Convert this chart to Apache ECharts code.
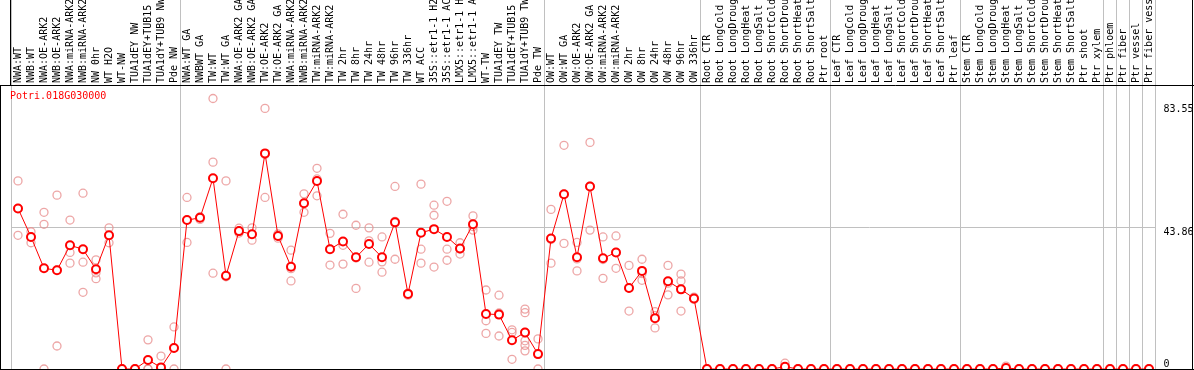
<!DOCTYPE html>
<html><head><meta charset="utf-8">
<script src="https://cdn.jsdelivr.net/npm/echarts@6/dist/echarts.min.js"></script>
<style>html,body{margin:0;padding:0;background:#fff}#c{width:1194px;height:370px}</style>
</head><body><div id="c"></div>
<script>
const geneTitle = 'Potri.018G030000';

const categories = [
  'NWA:WT','NWB:WT','NWA:OE-ARK2','NWB:OE-ARK2','NWA:miRNA-ARK2','NWB:miRNA-ARK2','NW 0hr','WT H2O','WT-NW','TUA1dEY NW','TUA1dEY+TUB15 NW','TUA1dY+TUB9 NW','Pde NW',
  'NWA:WT GA','NWBWT GA','TW:WT','TW:WT GA','NWA:OE-ARK2 GA','NWB:OE-ARK2 GA','TW:OE-ARK2','TW:OE-ARK2 GA','NWA:miRNA-ARK2 GA','NWB:miRNA-ARK2 GA','TW:miRNA-ARK2','TW:miRNA-ARK2 GA',
  'TW 2hr','TW 8hr','TW 24hr','TW 48hr','TW 96hr','TW 336hr','WT ACC','35S::etr1-1 H2O','35S::etr1-1 ACC','LMX5::etr1-1 H2O','LMX5::etr1-1 ACC','WT-TW','TUA1dEY TW','TUA1dEY+TUB15 TW','TUA1dY+TUB9 TW','Pde TW',
  'OW:WT','OW:WT GA','OW:OE-ARK2','OW:OE-ARK2 GA','OW:miRNA-ARK2','OW:miRNA-ARK2 GA','OW 2hr','OW 8hr','OW 24hr','OW 48hr','OW 96hr','OW 336hr',
  'Root CTR','Root LongCold','Root LongDrought','Root LongHeat','Root LongSalt','Root ShortCold','Root ShortDrought','Root ShortHeat','Root ShortSalt','Ptr root',
  'Leaf CTR','Leaf LongCold','Leaf LongDrought','Leaf LongHeat','Leaf LongSalt','Leaf ShortCold','Leaf ShortDrought','Leaf ShortHeat','Leaf ShortSalt','Ptr leaf',
  'Stem CTR','Stem LongCold','Stem LongDrought','Stem LongHeat','Stem LongSalt','Stem ShortCold','Stem ShortDrought','Stem ShortHeat','Stem ShortSalt','Ptr shoot','Ptr xylem',
  'Ptr phloem','Ptr fiber','Ptr vessel','Ptr fiber vessel'
];

// index of the first category of each group (separator lines)
const groupStarts = [0, 13, 41, 53, 63, 73, 84, 85, 86, 87];

const means = [
  49.6, 40.8, 31.1, 30.5, 38.2, 37.0, 30.8, 41.3, 0, 0, 2.8, 0.5, 6.5,
  46.0, 46.7, 58.9, 28.8, 42.6, 41.6, 66.6, 41.1, 31.6, 51.2, 58.1, 37.0,
  39.4, 34.5, 38.6, 34.5, 45.3, 23.2, 42.1, 43.2, 40.8, 37.2, 44.7, 17.0, 16.8, 8.9, 11.3, 4.6,
  40.3, 54.0, 34.5, 56.4, 34.2, 36.0, 25.0, 30.3, 15.7, 27.1, 24.6, 21.8,
  0, 0, 0, 0, 0, 0, 0.7, 0, 0, 0,
  0, 0, 0, 0, 0, 0, 0, 0, 0, 0,
  0, 0, 0, 0.3, 0, 0, 0, 0, 0, 0, 0,
  0, 0, 0, 0
];

const replicates = [
  [58.1, 49.6, 41.3], [42.4, 40.8, 39.0], [48.4, 44.7, 0], [53.7, 30.6, 7.1], [46.0, 36.0, 32.7],
  [54.3, 33.0, 23.7], [33.7, 29.7, 27.9], [43.6, 41.3, 39.0], [0, 0, 0], [0, 0, 0],
  [9.0, 0, 0], [4.0, 0, 0], [13.0, 6.5, 0],
  [53.0, 46.0, 39.1], [47.0, 46.9, 46.2], [83.55, 63.9, 29.6], [58.1, 28.5, 0], [43.5, 42.6, 42.0],
  [43.6, 41.6, 39.8], [80.5, 66.3, 53.0], [41.7, 41.1, 40.4], [36.7, 31.0, 27.2], [54.1, 51.2, 48.4],
  [62.0, 58.7, 53.5], [41.9, 37.0, 32.1],
  [47.8, 38.2, 32.4], [44.4, 34.3, 24.9], [43.6, 39.6, 33.0], [40.8, 33.1, 29.9], [56.4, 45.6, 33.9],
  [23.4, 23.2, 22.8], [57.1, 37.0, 32.7], [50.6, 47.5, 31.5], [51.8, 37.0, 33.6], [39.0, 37.0, 35.5],
  [47.3, 44.0, 42.9], [24.4, 14.9, 11.0], [22.8, 17.3, 10.2], [12.1, 11.3, 3.0],
  [18.5, 17.4, 11.3, 8.7, 7.3, 5.6], [9.3, 4.6, 0],
  [49.3, 40.0, 32.7], [69.1, 54.0, 38.8], [39.1, 34.0, 30.3], [70.0, 56.5, 42.9], [40.8, 33.8, 28.0],
  [41.1, 36.0, 31.1], [32.0, 25.0, 17.9], [33.9, 29.5, 27.4], [17.7, 16.5, 12.7], [32.0, 26.5, 22.9],
  [29.3, 27.2, 17.9], [22.2, 21.8, 21.5],
  [0, 0, 0], [0, 0, 0], [0, 0, 0], [0, 0, 0], [0, 0, 0], [0, 0, 0], [1.8, 0.2, 0], [0, 0, 0], [0, 0, 0], [0, 0, 0],
  [0, 0, 0], [0, 0, 0], [0, 0, 0], [0, 0, 0], [0, 0, 0], [0, 0, 0], [0, 0, 0], [0, 0, 0], [0, 0, 0], [0, 0, 0],
  [0, 0, 0], [0, 0, 0], [0, 0, 0], [0.9, 0, 0], [0, 0, 0], [0, 0, 0], [0, 0, 0], [0, 0, 0], [0, 0, 0], [0, 0, 0], [0, 0, 0],
  [0, 0, 0], [0, 0, 0], [0, 0, 0], [0, 0, 0]
];

const yMaxValue = 83.55;
const yTopLabels = [43.86, 83.55];
const yBottomLabels = [0];

const yMax = yMaxValue * 1.05;
const FONT = 'DejaVu Sans Mono';
const GRID_COL = '#c0c0c0';
const lblStyle = {fontFamily: FONT, fontSize: 10, color: '#000'};

const repData = [];
replicates.forEach((arr, i) => arr.forEach(v => repData.push([i, v])));

const sepFn = (idx) => groupStarts.indexOf(idx) >= 0;

const chart = echarts.init(document.getElementById('c'), null, {renderer: 'canvas'});
chart.setOption({
  animation: false,
  backgroundColor: '#fff',
  title: {
    text: geneTitle, left: 10, top: 91, padding: 0,
    textStyle: {color: '#ff0000', fontSize: 10, fontFamily: FONT, fontWeight: 'normal'}
  },
  grid: [
    {left: 11.5, width: 1144, top: 0, height: 85, containLabel: false, outerBoundsMode: 'none'},
    {left: 11.5, width: 1144, top: 85, height: 284, containLabel: false, outerBoundsMode: 'none'}
  ],
  xAxis: [
    {
      gridIndex: 0, type: 'category', data: categories,
      axisLine: {show: false}, axisTick: {show: false}, axisLabel: {show: false},
      splitLine: {show: true, interval: sepFn, lineStyle: {color: GRID_COL, width: 1}}
    },
    {
      gridIndex: 1, type: 'category', data: categories, position: 'top',
      axisLine: {show: true, lineStyle: {color: '#000', width: 1}},
      axisTick: {show: false},
      axisLabel: Object.assign({interval: 0, rotate: 90, margin: 2}, lblStyle),
      splitLine: {show: true, interval: sepFn, lineStyle: {color: GRID_COL, width: 1}}
    }
  ],
  yAxis: [
    {gridIndex: 0, type: 'value', show: false, min: 0, max: 1},
    {
      gridIndex: 1, type: 'value', position: 'right', min: 0, max: yMax, interval: yMax / 2,
      axisLine: {show: false}, axisTick: {show: false},
      splitLine: {show: true, lineStyle: {color: GRID_COL, width: 1}},
      axisLabel: Object.assign({
        customValues: yTopLabels, verticalAlign: 'top', margin: 8,
        formatter: v => (v === yMaxValue ? '{mx|' + v + '}' : '{n|' + v + '}'),
        rich: {
          mx: Object.assign({padding: [6, 0, 0, 0]}, lblStyle),
          n: Object.assign({}, lblStyle)
        }
      }, lblStyle)
    },
    {
      gridIndex: 1, type: 'value', position: 'right', min: 0, max: yMax,
      axisLine: {show: false}, axisTick: {show: false}, splitLine: {show: false},
      axisLabel: Object.assign({customValues: yBottomLabels, verticalAlign: 'bottom', margin: 8,
        formatter: v => String(v)}, lblStyle)
    }
  ],
  series: [
    {
      type: 'scatter', xAxisIndex: 1, yAxisIndex: 1, data: repData, clip: false, silent: true,
      symbol: 'circle', symbolSize: 8, z: 2,
      itemStyle: {color: 'rgba(0,0,0,0)', borderColor: '#e99090', borderWidth: 1.3}
    },
    {
      type: 'line', xAxisIndex: 1, yAxisIndex: 1, data: means, clip: false, silent: true,
      symbol: 'emptyCircle', symbolSize: 8, showAllSymbol: true, z: 3,
      lineStyle: {color: '#ff0000', width: 1},
      itemStyle: {color: '#ff0000', borderColor: '#ff0000', borderWidth: 1.2}
    }
  ],
  graphic: [
    {type: 'line', z: 100, shape: {x1: 0, y1: 85.5, x2: 1194, y2: 85.5}, style: {stroke: '#000', lineWidth: 1}},
    {type: 'line', z: 100, shape: {x1: 10.5, y1: 0, x2: 10.5, y2: 85}, style: {stroke: '#000', lineWidth: 1}},
    {type: 'line', z: 100, shape: {x1: 0.5, y1: 85, x2: 0.5, y2: 370}, style: {stroke: '#000', lineWidth: 1}},
    {type: 'line', z: 100, shape: {x1: 1192.5, y1: 0, x2: 1192.5, y2: 370}, style: {stroke: '#000', lineWidth: 1}},
    {type: 'line', z: 100, shape: {x1: 0, y1: 369.5, x2: 1194, y2: 369.5}, style: {stroke: '#000', lineWidth: 1}}
  ]
});
</script>
</body></html>
